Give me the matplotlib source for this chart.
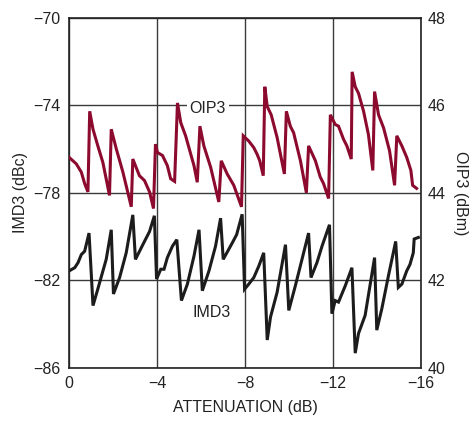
import matplotlib
matplotlib.use("Agg")
import matplotlib.pyplot as plt

plt.rcParams['font.family'] = ['Liberation Sans Narrow', 'Liberation Sans', 'DejaVu Sans']

# OIP3 (dBm) vs attenuation (dB)
oip3_x = [0, -0.33, -0.56, -0.71, -0.86, -0.94, -1.09, -1.31, -1.54, -1.84,
          -1.92, -2.15, -2.45, -2.83, -2.90, -3.20, -3.43, -3.66, -3.84, -3.93,
          -4.02, -4.25, -4.47, -4.62, -4.80, -4.93, -5.08, -5.30, -5.68, -5.83,
          -5.95, -6.13, -6.44, -6.81, -6.92, -7.19, -7.49, -7.84, -7.92, -8.17,
          -8.40, -8.55, -8.67, -8.83, -8.90, -9.01, -9.19, -9.46, -9.79, -9.88,
          -10.06, -10.21, -10.52, -10.79, -10.89, -11.20, -11.42, -11.57, -11.80, -11.88,
          -12.10, -12.25, -12.48, -12.63, -12.83, -12.87, -13.01, -13.16, -13.39, -13.61,
          -13.81, -13.89, -14.07, -14.30, -14.57, -14.80, -14.90, -15.13, -15.35, -15.54,
          -15.62, -15.80]
oip3_y = [44.81, 44.66, 44.47, 44.21, 44.02, 45.86, 45.45, 45.07, 44.69, 43.94,
          45.45, 45.00, 44.47, 43.68, 44.77, 44.39, 44.28, 44.02, 43.64, 45.11,
          44.92, 44.85, 44.62, 44.32, 44.26, 46.05, 45.60, 45.30, 44.62, 44.24,
          45.52, 45.07, 44.58, 43.79, 44.73, 44.43, 44.17, 43.68, 45.30, 45.18,
          45.03, 44.88, 44.73, 44.39, 46.42, 45.97, 45.78, 45.26, 44.43, 45.86,
          45.52, 45.37, 44.73, 44.00, 45.07, 44.73, 44.36, 44.21, 43.87, 45.78,
          45.56, 45.52, 45.22, 45.07, 44.77, 46.76, 46.42, 46.27, 45.86, 45.33,
          44.51, 46.31, 45.78, 45.48, 44.96, 44.17, 45.30, 45.07, 44.81, 44.51,
          44.17, 44.10]

# IMD3 (dBc) vs attenuation (dB)
imd3_x = [0, -0.26, -0.41, -0.56, -0.71, -0.91, -1.09, -1.31, -1.69, -1.92,
          -2.02, -2.30, -2.60, -2.90, -3.02, -3.43, -3.66, -3.88, -3.98, -4.17,
          -4.32, -4.47, -4.70, -4.90, -5.11, -5.38, -5.68, -5.91, -6.06, -6.36,
          -6.66, -6.89, -7.01, -7.42, -7.62, -7.87, -7.98, -8.17, -8.40, -8.63,
          -8.85, -9.01, -9.16, -9.46, -9.84, -9.99, -10.29, -10.59, -10.89, -11.00,
          -11.27, -11.50, -11.84, -11.95, -12.10, -12.25, -12.56, -12.86, -13.01, -13.16,
          -13.46, -13.89, -13.99, -14.22, -14.52, -14.85, -14.97, -15.13, -15.35, -15.50,
          -15.65, -15.69, -15.88]
imd3_y = [-81.57, -81.42, -81.19, -80.82, -80.67, -79.84, -83.15, -82.39, -81.04, -79.69,
          -82.62, -81.87, -80.74, -79.01, -81.04, -80.22, -79.77, -79.05, -81.94, -81.49,
          -81.49, -80.96, -80.44, -80.14, -82.92, -82.17, -80.89, -79.69, -82.47, -81.57,
          -80.44, -79.16, -81.04, -80.29, -79.91, -78.98, -82.40, -82.17, -81.87, -81.34,
          -80.74, -84.72, -83.67, -82.54, -80.37, -83.37, -82.24, -81.04, -79.84, -81.87,
          -81.19, -80.44, -79.46, -83.52, -82.92, -82.99, -82.24, -81.42, -85.32, -84.42,
          -83.60, -80.96, -84.27, -83.29, -81.79, -80.22, -82.32, -82.17, -81.57, -81.27,
          -80.74, -80.11, -80.04]

x_ticks = [0, -4, -8, -12, -16]
imd3_ticks = [-86, -82, -78, -74, -70]
oip3_ticks = [40, 42, 44, 46, 48]

RED = '#8c0a2e'
BLACK = '#1c1c1c'
GRID = '#3a3a3a'

fig = plt.figure(figsize=(4.75, 4.24), dpi=100)
ax = fig.add_axes([0.1453, 0.132, 0.7410, 0.8267])
ax.set_xlim(0, -16)
ax.set_ylim(-86, -70)
ax.set_xticks(x_ticks)
ax.set_xticklabels(['0', '\u22124', '\u22128', '\u221212', '\u221216'])
ax.set_yticks(imd3_ticks)
ax.grid(True, color=GRID, linewidth=1.0)
ax.tick_params(length=0, labelsize=11.5, colors='#222222', pad=6)
for s in ax.spines.values():
    s.set_color('#222222')
    s.set_linewidth(1.2)
ax.set_xlabel('ATTENUATION (dB)', fontsize=11.5, color='#222222', labelpad=6)
ax.set_ylabel('IMD3 (dBc)', fontsize=11.5, color='#222222', labelpad=4)

ax.plot(imd3_x, imd3_y, color=BLACK, linewidth=2.2, solid_joinstyle='miter', zorder=3)

ax2 = ax.twinx()
ax2.set_ylim(40, 48)
ax2.set_yticks(oip3_ticks)
ax2.tick_params(length=0, labelsize=11.5, colors='#222222', pad=5)
for s in ax2.spines.values():
    s.set_visible(False)
ax2.set_ylabel('OIP3 (dBm)', fontsize=11.5, color='#222222', rotation=270, labelpad=16)
ax2.plot(oip3_x, oip3_y, color=RED, linewidth=2.2, solid_joinstyle='miter', zorder=3)

ax.text(-6.3, -74.15, 'OIP3', fontsize=11.5, color='#222222', ha='center', va='center',
        bbox=dict(facecolor='white', edgecolor='none', pad=2), zorder=4)
ax.text(-6.5, -83.45, 'IMD3', fontsize=11.5, color='#222222', ha='center', va='center',
        zorder=4)

fig.savefig('out.png', dpi=100)
